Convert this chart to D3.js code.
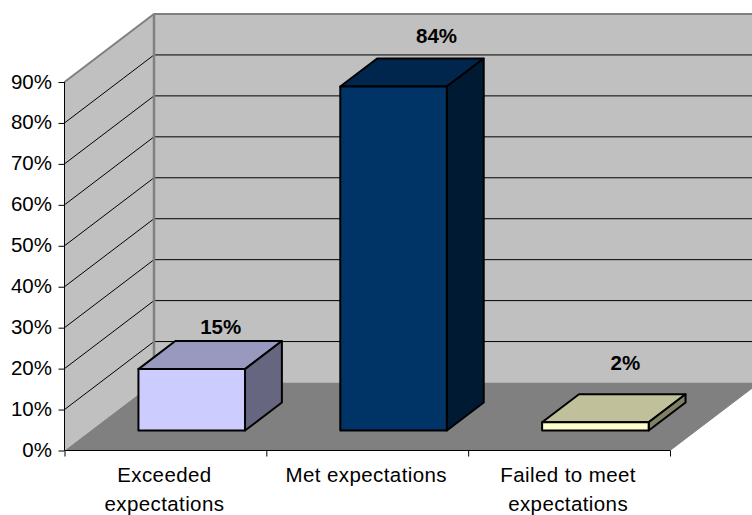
<!DOCTYPE html>
<html><head><meta charset="utf-8">
<script src="https://cdn.jsdelivr.net/npm/d3@7/dist/d3.min.js"></script>
<style>html,body{margin:0;padding:0;background:#fff}svg{display:block}text{font-family:"Liberation Sans",Arial,sans-serif;fill:#000}</style>
</head><body><svg id="c" width="752" height="515"></svg>
<script>
const categories = [["Exceeded","expectations"],["Met expectations"],["Failed to meet","expectations"]];
const values = [15, 84, 2];
const valueLabels = ["15%","84%","2%"];
const yTicks = [0,10,20,30,40,50,60,70,80,90];
const faceColors = [
  {front:"#ccccff",top:"#9999c0",side:"#666680"},
  {front:"#003366",top:"#00264d",side:"#001a33"},
  {front:"#ffffcc",top:"#c0c09a",side:"#808066"}
];
const labelNudge = [[29,-35],[43,-44],[30,-52]];

const svg = d3.select("#c");
const x = d3.scaleBand().domain(d3.range(3)).range([64.5,670]).paddingInner(0).paddingOuter(0);
const y = d3.scaleLinear().domain([0,90]).range([450.5,82]);
const depth = {dx:89.5, dy:-68};
const P = (px,v,d)=>[px+depth.dx*d, y(v)+depth.dy*d];
const poly = pts=>"M"+pts.map(p=>p.join(",")).join("L")+"Z";

// walls and floor
const wallX0=x.range()[0], wallX1=x.range()[1];
svg.append("path").attr("d",poly([P(wallX0,0,0),P(wallX0,90,0),P(wallX0,90,1),P(wallX0,0,1)])).attr("fill","#c0c0c0");
svg.append("path").attr("d",poly([P(wallX0,0,1),P(wallX0,90,1),P(wallX1,90,1),P(wallX1,0,1)])).attr("fill","#c0c0c0");
svg.append("path").attr("d",poly([P(wallX0,0,0),P(wallX1,0,0),P(wallX1,0,1),P(wallX0,0,1)])).attr("fill","#808080");

// gridlines
yTicks.filter(t=>t>0&&t<90).forEach(t=>{
  const a=P(wallX0,t,0),b=P(wallX0,t,1),c=P(wallX1,t,1);
  svg.append("path").attr("d",`M${a}L${b}L${c}`).attr("fill","none").attr("stroke","#000").attr("stroke-width",1);
});
// wall edges
const a90=P(wallX0,90,0),b90=P(wallX0,90,1),c90=P(wallX1,90,1),b0=P(wallX0,0,1);
svg.append("path").attr("d",`M${a90}L${b90}L${c90}`).attr("fill","none").attr("stroke","#808080").attr("stroke-width",2);
svg.append("path").attr("d",`M${b90}L${b0}`).attr("fill","none").attr("stroke","#808080").attr("stroke-width",2.5);
// floor right edge
svg.append("path").attr("d",`M${P(wallX1,0,0)}L${P(wallX1,0,1)}`).attr("fill","none").attr("stroke","#808080").attr("stroke-width",1);

// axes
const yAxis = d3.axisLeft(y).tickValues(yTicks).tickFormat(d=>d+"%").tickSize(6).tickPadding(6);
const gy = svg.append("g").attr("transform","translate(64.5,0)").call(yAxis);
gy.select(".domain").attr("stroke","#000").attr("d",`M0,${y(90)}V${y(0)}`);
gy.selectAll("text").attr("font-size",20.5).attr("dy",null).attr("y",6).attr("x",-12.5).attr("text-anchor","end");
const bx = d3.scaleLinear().domain([0,3]).range([64.5,670]);
const xAxis = d3.axisBottom(bx).tickValues([0,1,2,3]).tickFormat("").tickSize(6);
const gx = svg.append("g").attr("transform",`translate(0,${y(0)})`).call(xAxis);
gx.select(".domain").attr("stroke","#000").attr("d",`M64.5,0H670`);
gx.selectAll("line").attr("stroke","#000");

// bars
const barW = x.bandwidth()*0.528, dFront=0.294, dBack=0.706;
values.forEach((v,i)=>{
  const l = x(i)+(x.bandwidth()-barW)/2, r=l+barW, c=faceColors[i];
  const g = svg.append("g").attr("stroke","#000").attr("stroke-width",2).attr("stroke-linejoin","round");
  g.append("path").attr("d",poly([P(l,v,dFront),P(r,v,dFront),P(r,v,dBack),P(l,v,dBack)])).attr("fill",c.top);
  g.append("path").attr("d",poly([P(r,0,dFront),P(r,v,dFront),P(r,v,dBack),P(r,0,dBack)])).attr("fill",c.side);
  g.append("path").attr("d",poly([P(l,0,dFront),P(r,0,dFront),P(r,v,dFront),P(l,v,dFront)])).attr("fill",c.front);
  const f=P((l+r)/2,v,dFront);
  svg.append("text").attr("x",f[0]+labelNudge[i][0]).attr("y",f[1]+labelNudge[i][1])
    .attr("text-anchor","middle").attr("font-weight","bold").attr("font-size",20.5).text(valueLabels[i]);
});

// category labels
categories.forEach((lines,i)=>{
  const t=svg.append("text").attr("text-anchor","middle").attr("font-size",20.5).attr("letter-spacing",0.4);
  lines.forEach((s,j)=>t.append("tspan").attr("x",x(i)+x.bandwidth()/2-1).attr("y",482+j*29).text(s));
});
</script></body></html>
